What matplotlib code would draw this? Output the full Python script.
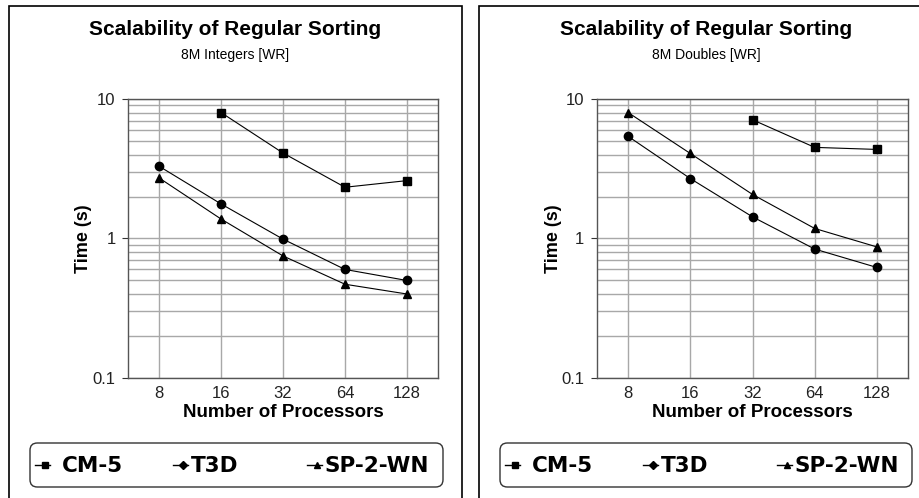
import matplotlib
matplotlib.use("Agg")
import matplotlib.pyplot as plt
from matplotlib.patches import Rectangle, FancyBboxPatch
from matplotlib.lines import Line2D
import matplotlib.ticker as mticker

plt.rcParams['font.family'] = ['Liberation Sans', 'DejaVu Sans']

processors = ["8", "16", "32", "64", "128"]
series_names = ["CM-5", "T3D", "SP-2-WN"]
markers = ["s", "o", "^"]
legend_markers = ["s", "D", "^"]

titles = ["Scalability of Regular Sorting", "Scalability of Regular Sorting"]
subtitles = ["8M Integers [WR]", "8M Doubles [WR]"]

# left panel: 8M Integers
int_cm5 = [None, 8.0, 4.1, 2.33, 2.6]
int_t3d = [3.3, 1.77, 0.99, 0.60, 0.50]
int_sp2 = [2.72, 1.38, 0.75, 0.47, 0.40]

# right panel: 8M Doubles
dbl_cm5 = [None, None, 7.1, 4.5, 4.35]
dbl_t3d = [5.4, 2.69, 1.43, 0.84, 0.62]
dbl_sp2 = [8.0, 4.07, 2.07, 1.18, 0.87]

panels = [
    (int_cm5, int_t3d, int_sp2),
    (dbl_cm5, dbl_t3d, dbl_sp2),
]

W, H = 919, 498
fig = plt.figure(figsize=(W / 100, H / 100), dpi=100)

def fx(px):
    return px / W

def fy(py):
    return 1 - py / H

panel_boxes = [(9, 462), (479, 925)]
axes_boxes = [(128, 438), (597, 908)]
legend_boxes = [(30, 443), (500, 912)]
title_centers = [235, 706]

for i in range(2):
    px0, px1 = panel_boxes[i]
    fig.patches.append(Rectangle((fx(px0), fy(510)), fx(px1 - px0), (510 - 5.5) / H,
                                 transform=fig.transFigure, fill=False,
                                 edgecolor='black', linewidth=1.2))
    ax0, ax1 = axes_boxes[i]
    ax = fig.add_axes([fx(ax0), fy(378), fx(ax1 - ax0), (378 - 99) / H])
    x = list(range(len(processors)))
    for vals, m in zip(panels[i], markers):
        xs = [xx for xx, v in zip(x, vals) if v is not None]
        ys = [v for v in vals if v is not None]
        ax.plot(xs, ys, color='black', linewidth=0.8, marker=m, markersize=6,
                markerfacecolor='black', markeredgecolor='black', zorder=3)
    ax.set_yscale('log')
    ax.set_ylim(0.1, 10)
    ax.set_xlim(-0.5, 4.5)
    ax.set_xticks(x)
    ax.set_xticklabels(processors)
    ax.yaxis.set_major_locator(mticker.FixedLocator([0.1, 1, 10]))
    ax.yaxis.set_major_formatter(mticker.FixedFormatter(["0.1", "1", "10"]))
    ax.yaxis.set_minor_locator(mticker.LogLocator(base=10, subs=range(2, 10)))
    ax.yaxis.set_minor_formatter(mticker.NullFormatter())
    ax.grid(True, which='major', axis='both', color='#a8a8a8', linewidth=1.0)
    ax.grid(True, which='minor', axis='y', color='#a8a8a8', linewidth=1.0)
    ax.set_axisbelow(True)
    for s in ax.spines.values():
        s.set_color('#555555')
        s.set_linewidth(1.0)
    ax.tick_params(axis='x', length=0, labelsize=12, colors='#333333', pad=6)
    ax.tick_params(axis='y', which='major', length=4, labelsize=12, colors='#333333', pad=5, direction='out')
    ax.tick_params(axis='y', which='minor', length=0)
    for lab in ax.get_xticklabels() + ax.get_yticklabels():
        lab.set_color('#222222')
        lab.set_fontweight('light')
    ax.set_xlabel("Number of Processors", fontsize=13.5, fontweight='bold', labelpad=2)
    ax.set_ylabel("Time (s)", fontsize=13, fontweight='bold', labelpad=0)

    cx = title_centers[i]
    fig.text(fx(cx), fy(29), titles[i], ha='center', va='center',
             fontsize=15, fontweight='bold')
    fig.text(fx(cx), fy(55), subtitles[i], ha='center', va='center', fontsize=10)

    lx0, lx1 = legend_boxes[i]
    fig.patches.append(FancyBboxPatch((fx(lx0), fy(487)), fx(lx1 - lx0), (487 - 443) / H,
                                      boxstyle="round,pad=0,rounding_size=0.008",
                                      transform=fig.transFigure, fill=False,
                                      edgecolor='#333333', linewidth=1.0,
                                      mutation_aspect=W / H))
    offsets = [(5, 32, "CM-5"), (143, 161, "T3D"), (277, 295, "SP-2-WN")]
    for (loff, toff, name), m in zip(offsets, legend_markers):
        ls = lx0 + loff
        fig.add_artist(Line2D([fx(ls), fx(ls + 15)], [fy(465), fy(465)],
                              transform=fig.transFigure, color='black', linewidth=1.0))
        fig.add_artist(Line2D([fx(ls + 10)], [fy(465)], transform=fig.transFigure,
                              color='black', marker=m, markersize=4.5 if m != 'D' else 4,
                              linestyle='none'))
        fig.text(fx(lx0 + toff), fy(466), name, ha='left', va='center',
                 fontsize=15.5, fontweight='bold', family='DejaVu Sans')

fig.savefig("out.png", dpi=100)
